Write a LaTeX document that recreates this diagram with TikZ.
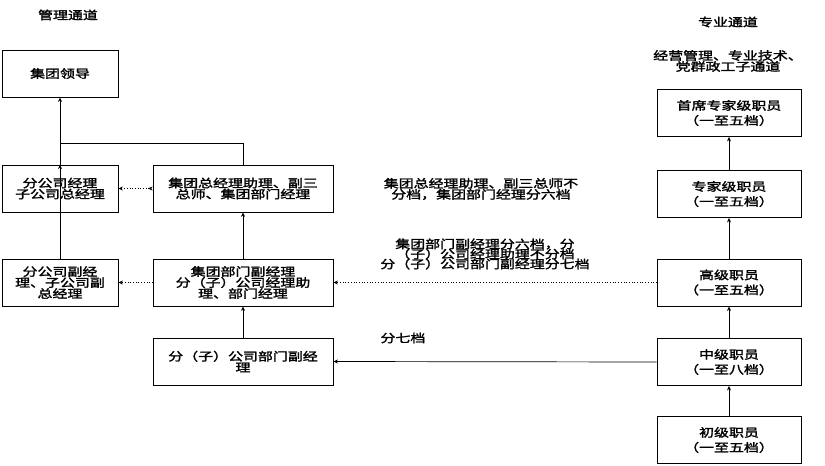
\documentclass[tikz,border=0pt]{standalone}
\usepackage{fontspec}
\newfontfamily\cjk[FakeStretch=1.3,FakeBold=2]{Noto Sans CJK SC}
\usetikzlibrary{arrows.meta}
\begin{document}
\begin{tikzpicture}[x=1pt,y=-1pt,
  txt/.style={font=\cjk\fontsize{11.5}{11}\selectfont, align=center, inner sep=0pt},
  box/.style={txt, draw, line width=0.8pt, minimum width=116pt, minimum height=47pt},
  wbox/.style={box, minimum width=180pt},
  rbox/.style={box, minimum width=144pt, font=\cjk\fontsize{11.5}{15}\selectfont},
  arr/.style={line width=0.7pt, -{Stealth[length=4.5pt,width=4pt]}},
  darr/.style={arr, dotted},
  ddarr/.style={darr, {Stealth[reversed,length=4.5pt,width=4pt]}-{Stealth[length=4.5pt,width=4pt]}}]
\useasboundingbox (0,0) rectangle (825,466);
% titles
\node[txt] (t1) at (68,15) {管理通道};
\node[txt] (t2) at (728,22) {专业通道};
\node[txt] (t3) at (728,61) {经营管理、专业技术、\\党群政工子通道};
% left column
\node[box] (a) at (60,73.5) {集团领导};
\node[box] (c) at (60,188.5) {分公司经理\\子公司总经理};
\node[box] (e) at (60,282.5) {分公司副经\\理、子公司副\\总经理};
% middle column
\node[wbox] (b) at (243,188.5) {集团总经理助理、副三\\总师、集团部门经理};
\node[wbox] (d) at (243,282.5) {集团部门副经理\\分（子）公司经理助\\理、部门经理};
\node[wbox] (f) at (243,361.5) {分（子）公司部门副经\\理};
% right column
\node[rbox] (r1) at (729,113) {首席专家级职员\\（一至五档）};
\node[rbox] (r2) at (729,194) {专家级职员\\（一至五档）};
\node[rbox] (r3) at (729,282.5) {高级职员\\（一至五档）};
\node[rbox] (r4) at (729,362) {中级职员\\（一至八档）};
\node[rbox] (r5) at (729,440) {初级职员\\（一至五档）};
% free labels
\node[txt] (l1) at (481,189) {集团总经理助理、副三总师不\\分档，集团部门经理分六档};
\node[txt] (l2) at (485,244) {集团部门副经理分六档，分};
\node[txt] (l3) at (485,254) {（子）公司经理助理不分档};
\node[txt] (l4) at (485,264) {分（子）公司部门副经理分七档};
\node[txt] (l5) at (403,338) {分七档};
% connectors
\draw[arr] (c.north) -- (a.south);
\draw[line width=0.7pt] (b.north) |- (c.north |- 0,143);
\draw[arr] (e.north) -- (c.north);
\draw[arr] (d.north) -- (b.south);
\draw[arr] (f.north) -- (d.south);
\draw[ddarr] (b.west) -- (c.east);
\draw[darr] (d.west) -- (e.east);
\draw[darr] (r3.west) -- (d.east);
\draw[arr] (r4.west) -- (f.east);
\draw[arr] (r5.north) -- (r4.south);
\draw[arr] (r4.north) -- (r3.south);
\draw[arr] (r3.north) -- (r2.south);
\draw[arr] (r2.north) -- (r1.south);
\end{tikzpicture}
\end{document}
